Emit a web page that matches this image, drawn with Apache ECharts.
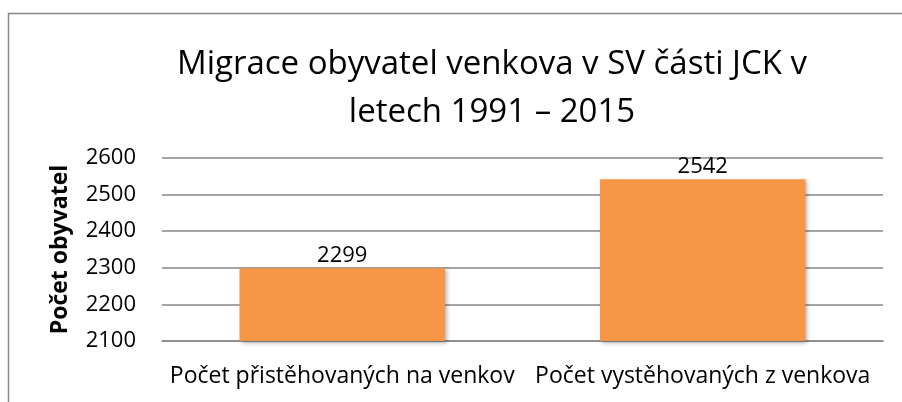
<!DOCTYPE html>
<html>
<head>
<meta charset="utf-8">
<script src="https://cdn.jsdelivr.net/npm/echarts@6/dist/echarts.min.js"></script>
<style>
  html, body { margin: 0; padding: 0; background: #fff; }
  #chart { width: 902px; height: 402px; }
</style>
</head>
<body>
<div id="chart"></div>
<script>
var categories = ['Počet přistěhovaných na venkov', 'Počet vystěhovaných z venkova']
var values = [2299, 2542]
var yTicks = [2100, 2200, 2300, 2400, 2500, 2600]

var font = '"Open Sans", "Noto Sans", sans-serif'

var chart = echarts.init(document.getElementById('chart'))
chart.setOption({
  backgroundColor: '#fff',
  animation: false,
  graphic: [{
    // frame of the chart area
    type: 'rect',
    shape: { x: 8.5, y: 13.5, width: 900, height: 400 },
    style: { fill: 'none', stroke: '#878787', lineWidth: 1.5 },
    silent: true
  }],
  title: {
    text: 'Migrace obyvatel venkova v SV části JCK v\nletech 1991 – 2015',
    left: 487,
    top: 36,
    textAlign: 'center',
    textStyle: {
      fontFamily: font,
      fontSize: 33,
      fontWeight: 'normal',
      color: '#000',
      lineHeight: 48
    }
  },
  grid: {
    left: 162,
    right: 19,
    top: 158,
    bottom: 61
  },
  xAxis: {
    type: 'category',
    data: categories,
    axisTick: { show: false },
    axisLine: { lineStyle: { color: '#868686', width: 1.5 } },
    axisLabel: {
      interval: 0,
      margin: 24,
      color: '#000',
      fontFamily: font,
      fontSize: 23
    }
  },
  yAxis: {
    type: 'value',
    min: yTicks[0],
    max: yTicks[yTicks.length - 1],
    interval: 100,
    name: 'Počet obyvatel',
    nameLocation: 'middle',
    nameGap: 90,
    nameTextStyle: {
      fontFamily: font,
      fontSize: 23,
      fontWeight: 'bold',
      color: '#000'
    },
    axisLine: { show: false },
    axisTick: { show: false },
    axisLabel: {
      margin: 26,
      color: '#000',
      fontFamily: font,
      fontSize: 22,
      formatter: function (v) { return String(v) }
    },
    splitLine: { lineStyle: { color: '#868686', width: 1.5 } }
  },
  series: [{
    type: 'bar',
    data: values,
    barWidth: '57%',
    itemStyle: {
      color: '#F79646',
      shadowBlur: 4,
      shadowColor: 'rgba(0,0,0,0.3)',
      shadowOffsetX: 2,
      shadowOffsetY: 2
    },
    label: {
      show: true,
      position: 'top',
      distance: 1,
      color: '#000',
      fontFamily: font,
      fontSize: 22
    }
  }]
})
</script>
</body>
</html>
